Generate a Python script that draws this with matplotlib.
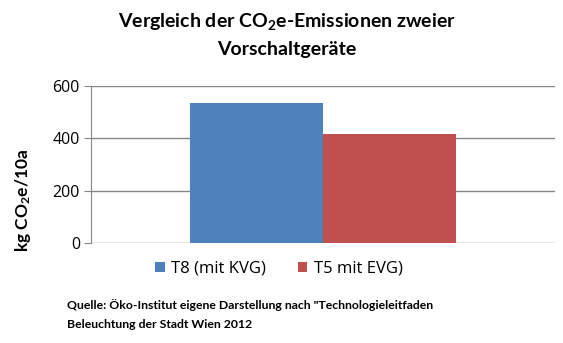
import matplotlib.pyplot as plt

plt.rcParams['font.family'] = ['Lato', 'DejaVu Sans']
plt.rcParams['mathtext.fontset'] = 'custom'
plt.rcParams['mathtext.rm'] = 'Lato:bold'
plt.rcParams['mathtext.default'] = 'rm'

labels = ['T8 (mit KVG)', 'T5 mit EVG)']
values = [535, 417]
colours = ['#4F81BD', '#C0504D']
yticks = [0, 200, 400, 600]

fig = plt.figure(figsize=(5.63, 3.43), dpi=100)
ax = fig.add_axes([91 / 563, 1 - 243 / 343, (555 - 91) / 563, (243 - 86) / 343])

# two bars touching at the middle of the plot
for i, (lab, val) in enumerate(zip(labels, values)):
    ax.bar(i - 0.5, val, width=1.0, color=colours[i], label=lab, zorder=3)

ax.set_xlim(-1.75, 1.75)
ax.set_ylim(0, 600)
ax.set_yticks(yticks)
ax.set_xticks([])
ax.yaxis.grid(True, color='#868686', linewidth=1.0, zorder=0)
for s in ['top', 'right', 'bottom']:
    ax.spines[s].set_visible(False)
ax.spines['left'].set_color('#868686')
ax.tick_params(axis='y', length=5, color='#868686', pad=3)
for t in ax.get_yticklabels():
    t.set_fontfamily(['Open Sans', 'DejaVu Sans'])
    t.set_fontsize(11.5)

ax.set_ylabel(r'kg CO$_2$e/10a', fontsize=12.5, fontweight='bold')
ax.yaxis.set_label_coords(-0.125, 0.27)

fig.text(0.51, 1 - 22 / 343, r'Vergleich der CO$_2$e-Emissionen zweier', ha='center', va='center',
         fontsize=14, fontweight='bold')
fig.text(0.51, 1 - 49 / 343, 'Vorschaltgeräte', ha='center', va='center',
         fontsize=14, fontweight='bold')

ax.legend(loc='center', bbox_to_anchor=(0.405, -0.165), ncol=2, frameon=False,
          handlelength=0.55, handleheight=0.55, handletextpad=0.4, columnspacing=1.9,
          prop={'family': 'Open Sans', 'size': 12})

fig.text(67 / 563, 1 - 305 / 343, 'Quelle: Öko-Institut eigene Darstellung nach "Technologieleitfaden',
         ha='left', va='center', fontsize=8.8, fontweight='bold')
fig.text(67 / 563, 1 - 324 / 343, 'Beleuchtung der Stadt Wien 2012',
         ha='left', va='center', fontsize=8.8, fontweight='bold')

fig.savefig('out.png', dpi=100)
